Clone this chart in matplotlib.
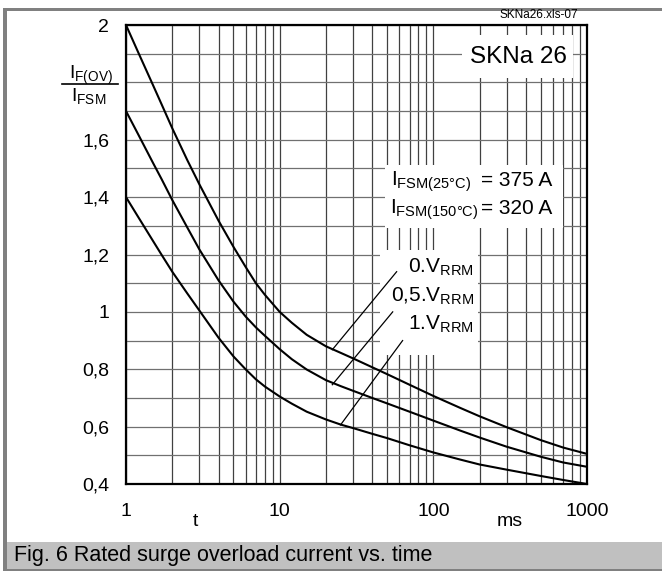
import numpy as np
import matplotlib
matplotlib.use("Agg")
import matplotlib.pyplot as plt
from matplotlib.patches import Rectangle
from matplotlib.lines import Line2D

plt.rcParams["font.family"] = ["Liberation Sans", "DejaVu Sans"]
plt.rcParams["mathtext.fontset"] = "custom"
plt.rcParams["mathtext.rm"] = "Liberation Sans"
plt.rcParams["mathtext.it"] = "Liberation Sans:italic"
plt.rcParams["mathtext.bf"] = "Liberation Sans:bold"

# data (t in ms, I_F(OV)/I_FSM)
t_ms = [1, 1.2, 1.5, 1.7, 2, 2.5, 3, 4, 5, 6, 7, 8, 10, 12, 15, 20, 25, 30,
        40, 50, 70, 100, 150, 200, 300, 500, 700, 1000]
ratio_0v = [2.0, 1.905, 1.79, 1.725, 1.64, 1.53, 1.445, 1.318, 1.227, 1.157,
            1.10, 1.06, 1.00, 0.962, 0.92, 0.88, 0.857, 0.838, 0.807,
            0.783, 0.746, 0.707, 0.665, 0.636, 0.598, 0.553, 0.527, 0.505]
ratio_05v = [1.70, 1.619, 1.519, 1.464, 1.39, 1.295, 1.218, 1.11, 1.036, 0.984,
             0.946, 0.917, 0.87, 0.835, 0.799, 0.762, 0.741, 0.725, 0.70,
             0.681, 0.652, 0.621, 0.586, 0.562, 0.53, 0.495, 0.475, 0.46]
ratio_1v = [1.40, 1.331, 1.247, 1.20, 1.14, 1.065, 1.005, 0.91, 0.845, 0.80,
            0.765, 0.74, 0.705, 0.68, 0.652, 0.625, 0.607, 0.595, 0.575, 0.56,
            0.535, 0.51, 0.485, 0.468, 0.45, 0.428, 0.414, 0.40]

# leader lines: (t_label, y_label) -> (t_curve, y_curve)
leader_t = [[57.7, 22.0], [54.4, 22.0], [63.1, 24.9]]
leader_y = [[1.14, 0.868], [1.00, 0.746], [0.90, 0.606]]

curve_labels = [r"0.V$_{\mathrm{RRM}}$", r"0,5.V$_{\mathrm{RRM}}$", r"1.V$_{\mathrm{RRM}}$"]
x_ticks = [1, 10, 100, 1000]
x_ticklabels = ["1", "10", "100", "1000"]
y_ticks = [0.4, 0.6, 0.8, 1.0, 1.2, 1.4, 1.6, 2.0]
y_ticklabels = ["0,4", "0,6", "0,8", "1", "1,2", "1,4", "1,6", "2"]

W, H = 662, 571
AX_L, AX_R, AX_T, AX_B = 126, 587, 25, 484


def fx(x):
    return x / W


def fy(y):
    return 1 - y / H


def ax_pos(x, y):
    return (x - AX_L) / (AX_R - AX_L), (AX_B - y) / (AX_B - AX_T)


fig = plt.figure(figsize=(W / 100, H / 100), dpi=100)
fig.patch.set_facecolor("white")

# frame and caption band
fig.patches.append(Rectangle((fx(7), fy(569)), fx(655), 27 / H, transform=fig.transFigure,
                             facecolor="#c0c0c0", edgecolor="none", zorder=0))
fig.patches.append(Rectangle((fx(3), fy(11)), fx(659), 3 / H, transform=fig.transFigure,
                             facecolor="#808080", edgecolor="none", zorder=0))
fig.patches.append(Rectangle((fx(3), 0), fx(4), fy(8), transform=fig.transFigure,
                             facecolor="#808080", edgecolor="none", zorder=0))
fig.patches.append(Rectangle((fx(3), 0), fx(659), 2 / H, transform=fig.transFigure,
                             facecolor="#808080", edgecolor="none", zorder=0))
fig.text(fx(14), fy(556), "Fig. 6 Rated surge overload current vs. time",
         fontsize=15.5, va="center", ha="left")

ax = fig.add_axes([fx(AX_L), fy(AX_B), (AX_R - AX_L) / W, (AX_B - AX_T) / H])
ax.set_xscale("log")
ax.set_xlim(1, 1000)
ax.set_ylim(0.4, 2.0)
ax.set_xticks(x_ticks)
ax.set_xticklabels(x_ticklabels)
ax.set_xticks([m * d for d in (1, 10, 100) for m in range(2, 10)], minor=True)
ax.set_yticks(y_ticks)
ax.set_yticklabels(y_ticklabels)
ax.set_yticks(np.round(np.arange(0.4, 2.01, 0.1), 2), minor=True)
ax.tick_params(axis="both", which="both", length=0, labelsize=14)
ax.tick_params(axis="x", pad=14)
ax.tick_params(axis="y", pad=12)
ax.set_axisbelow(True)
ax.grid(True, axis="x", which="both", color="#404040", linewidth=0.9)
ax.grid(True, axis="y", which="both", color="#707070", linewidth=0.9)
for sp in ax.spines.values():
    sp.set_linewidth(1.6)
    sp.set_color("black")

for series in (ratio_0v, ratio_05v, ratio_1v):
    ax.plot(t_ms, series, color="black", linewidth=1.5, zorder=3)

# white boxes hiding the grid behind text
for (x0, y0, x1, y1) in [(462, 35, 573, 78), (385, 165, 563, 228), (380, 250, 478, 355)]:
    ax0, ay1 = ax_pos(x0, y0)
    ax1, ay0 = ax_pos(x1, y1)
    ax.add_patch(Rectangle((ax0, ay0), ax1 - ax0, ay1 - ay0, transform=ax.transAxes,
                           facecolor="white", edgecolor="none", zorder=1.5))

for lt, ly in zip(leader_t, leader_y):
    ax.plot(lt, ly, color="black", linewidth=0.9, zorder=4)

ax.text(*ax_pos(567, 57), "SKNa 26", transform=ax.transAxes, fontsize=17.5,
        ha="right", va="center", zorder=5)
ax.text(*ax_pos(391, 186), r"I$_{\mathrm{FSM(25°C)}}$", transform=ax.transAxes,
        fontsize=15, ha="left", va="baseline", zorder=5)
ax.text(*ax_pos(481, 186), "= 375 A", transform=ax.transAxes,
        fontsize=15, ha="left", va="baseline", zorder=5)
ax.text(*ax_pos(390, 214), r"I$_{\mathrm{FSM(150°C)}}$", transform=ax.transAxes,
        fontsize=15, ha="left", va="baseline", zorder=5)
ax.text(*ax_pos(481, 214), "= 320 A", transform=ax.transAxes,
        fontsize=15, ha="left", va="baseline", zorder=5)
for lab, yb in zip(curve_labels, [273, 302, 330]):
    ax.text(*ax_pos(474, yb), lab, transform=ax.transAxes, fontsize=15,
            ha="right", va="baseline", zorder=5)

# axis labels
fig.text(fx(195), fy(521), "t", fontsize=14, ha="center", va="center")
fig.text(fx(510), fy(521), "ms", fontsize=14, ha="center", va="center")
fig.text(fx(69), fy(79), r"I$_{\mathrm{F(OV)}}$", fontsize=14, ha="left", va="baseline")
fig.text(fx(71), fy(101), r"I$_{\mathrm{FSM}}$", fontsize=14, ha="left", va="baseline")
fig.lines.append(Line2D([fx(62), fx(118)], [fy(84), fy(84)], transform=fig.transFigure,
                        color="black", linewidth=1.2))
fig.text(fx(578), fy(18), "SKNa26.xls-07", fontsize=8.5, ha="right", va="baseline")

fig.savefig("out.png", dpi=100)
